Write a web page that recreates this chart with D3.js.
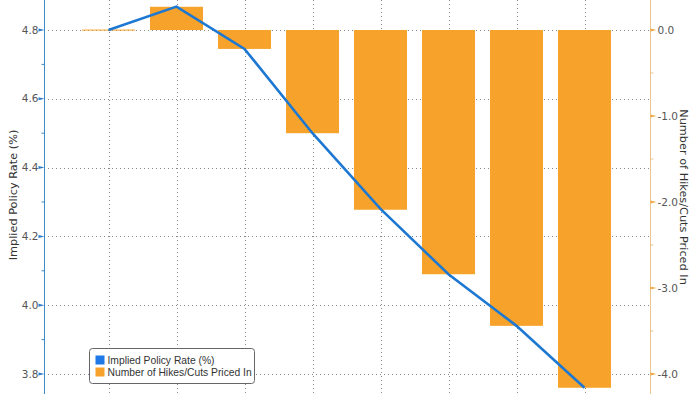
<!DOCTYPE html>
<html><head><meta charset="utf-8">
<script src="https://cdn.jsdelivr.net/npm/d3@7"></script>
<style>body{margin:0;background:#fff}svg{display:block}</style>
</head><body><svg id="c" width="700" height="394"></svg>
<script>
const categories = ["M1","M2","M3","M4","M5","M6","M7","M8"];
const rateValues = [4.80, 4.868, 4.745, 4.50, 4.28, 4.09, 3.94, 3.76];
const hikeValues = [0.005, 0.27, -0.22, -1.20, -2.09, -2.84, -3.44, -4.16];
const leftTicks = [3.8, 4.0, 4.2, 4.4, 4.6, 4.8];
const rightTicks = [-4, -3, -2, -1, 0];

const svg = d3.select("#c");
const W = 700, H = 394, xl = 44, xr = 650;
const font = "DejaVu Sans, Verdana, sans-serif";
const yL = d3.scaleLinear().domain([4.8, 3.8]).range([30, 374]);
const yR = d3.scaleLinear().domain([0, -4]).range([30, 374]);
const x = d3.scaleBand().domain(categories).range([74.5, 618.5]).paddingInner(0.22).paddingOuter(0.11);
const cx = d => x(d) + x.bandwidth() / 2;

// vertical gridlines
svg.append("g").selectAll("line").data(categories).join("line")
  .attr("x1", d => Math.round(cx(d)) + 0.5).attr("x2", d => Math.round(cx(d)) + 0.5)
  .attr("y1", 0).attr("y2", H)
  .attr("stroke", "#888").attr("stroke-width", 1).attr("stroke-dasharray", "1,3");

// horizontal gridlines
svg.append("g").selectAll("line").data(leftTicks).join("line")
  .attr("x1", xl).attr("x2", xr)
  .attr("y1", d => Math.round(yL(d)) + 0.5).attr("y2", d => Math.round(yL(d)) + 0.5)
  .attr("stroke", "#888").attr("stroke-width", 1).attr("stroke-dasharray", "1,3");

// bars
svg.append("g").selectAll("rect").data(categories).join("rect")
  .attr("x", d => x(d)).attr("width", x.bandwidth())
  .attr("y", (d, i) => Math.min(yR(0), yR(hikeValues[i])))
  .attr("height", (d, i) => Math.max(1, Math.abs(yR(hikeValues[i]) - yR(0))))
  .attr("fill", "#f6a22b");

// line
const line = d3.line().x((d, i) => cx(categories[i])).y(d => yL(d));
svg.append("path").datum(rateValues).attr("d", line)
  .attr("fill", "none").attr("stroke", "#1e78d2").attr("stroke-width", 2.6);

// left axis
const la = svg.append("g").attr("transform", `translate(${xl + 0.5},0)`);
la.append("line").attr("y1", 0).attr("y2", H).attr("stroke", "#3d8ac9").attr("stroke-width", 1);
const lminor = d3.range(3.7, 4.91, 0.1).map(v => +v.toFixed(1)).filter(v => !leftTicks.includes(v));
la.selectAll(".mn").data(lminor).join("line").attr("class", "mn")
  .attr("x1", -3).attr("x2", 0).attr("y1", d => yL(d)).attr("y2", d => yL(d)).attr("stroke", "#3d8ac9");
la.selectAll(".tk").data(leftTicks).join("path").attr("class", "tk")
  .attr("d", d => `M-6,${yL(d) - 1.5}L0,${yL(d)}L-6,${yL(d) + 1.5}Z`).attr("fill", "#2a7cc8");
la.selectAll("text").data(leftTicks).join("text")
  .attr("x", -6).attr("y", d => yL(d)).attr("dy", "0.35em").attr("text-anchor", "end")
  .attr("font-family", font).attr("font-size", 10.5).attr("fill", "#555").text(d => d.toFixed(1));

// right axis
const ra = svg.append("g").attr("transform", `translate(${xr + 0.5},0)`);
ra.append("line").attr("y1", 0).attr("y2", H).attr("stroke", "#e9c590").attr("stroke-width", 1);
const rminor = [0.5, -0.5, -1.5, -2.5, -3.5];
ra.selectAll(".mn").data(rminor).join("line").attr("class", "mn")
  .attr("x1", 0).attr("x2", 3).attr("y1", d => yR(d)).attr("y2", d => yR(d)).attr("stroke", "#e9c590");
ra.selectAll(".tk").data(rightTicks).join("path").attr("class", "tk")
  .attr("d", d => `M0,${yR(d) - 1.5}L6,${yR(d)}L0,${yR(d) + 1.5}Z`).attr("fill", "#f2a84a");
ra.selectAll("text").data(rightTicks).join("text")
  .attr("x", 7).attr("y", d => yR(d)).attr("dy", "0.35em").attr("text-anchor", "start")
  .attr("font-family", font).attr("font-size", 10.5).attr("fill", "#555").text(d => d.toFixed(1));

// axis titles
svg.append("text").attr("transform", "translate(17,195) rotate(-90)").attr("text-anchor", "middle")
  .attr("font-family", font).attr("font-size", 11.3).attr("fill", "#333").text("Implied Policy Rate (%)");
svg.append("text").attr("transform", "translate(680,197) rotate(90)").attr("text-anchor", "middle")
  .attr("font-family", font).attr("font-size", 11.3).attr("fill", "#333").text("Number of Hikes/Cuts Priced In");

// legend
const lg = svg.append("g").attr("transform", "translate(89.5,348.5)");
lg.append("rect").attr("width", 165).attr("height", 35).attr("rx", 3)
  .attr("fill", "#fff").attr("stroke", "#666").attr("stroke-width", 1);
const items = [["Implied Policy Rate (%)", "#1e78e6"], ["Number of Hikes/Cuts Priced In", "#f6a22b"]];
items.forEach((it, i) => {
  lg.append("rect").attr("x", 6).attr("y", 7 + i * 12).attr("width", 9).attr("height", 9).attr("fill", it[1]);
  lg.append("text").attr("x", 18).attr("y", 11.5 + i * 12).attr("dy", "0.35em")
    .attr("font-family", "Liberation Sans, Arial, sans-serif").attr("font-size", 10.3).attr("fill", "#333").text(it[0]);
});
</script></body></html>
